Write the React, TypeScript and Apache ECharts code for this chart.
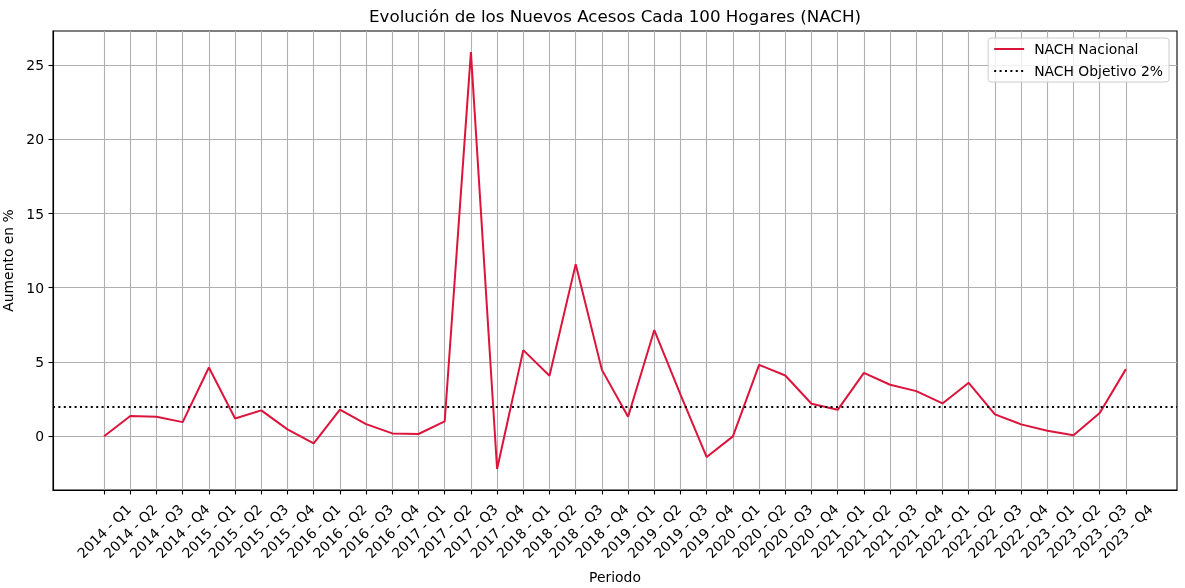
import { useEffect, useRef } from "react";
import * as echarts from "echarts";

const YEARS = [2014, 2015, 2016, 2017, 2018, 2019, 2020, 2021, 2022, 2023];
const QUARTERS = ["Q1", "Q2", "Q3", "Q4"];
const CATEGORIES: string[] = [];
YEARS.forEach((y) => QUARTERS.forEach((q) => CATEGORIES.push(`${y} - ${q}`)));

// NACH Nacional, one value per quarter
const NACH_VALUES = [
  0.0, 1.36, 1.31, 0.95,
  4.63, 1.2, 1.74, 0.46,
  -0.48, 1.8, 0.82, 0.19,
  0.15, 1.0, 25.87, -2.21,
  5.8, 4.07, 11.59, 4.47,
  1.31, 7.15, 2.8, -1.4,
  -0.01, 4.81, 4.09, 2.19,
  1.78, 4.27, 3.47, 3.04,
  2.21, 3.6, 1.47, 0.8,
  0.37, 0.06, 1.56, 4.52,
];
const TARGET = 2;
const Y_TICKS = [0, 5, 10, 15, 20, 25];

const FONT = "DejaVu Sans";

const App: React.FC = () => {
  const chartRef = useRef<HTMLDivElement>(null);

  useEffect(() => {
    if (!chartRef.current) return;
    const chart = echarts.init(chartRef.current, undefined, { renderer: "svg" });

    const xIdx = CATEGORIES.map((_, i) => i);

    chart.setOption({
      animation: false,
      textStyle: { fontFamily: FONT },
      grid: {
        left: 53,
        right: 8,
        top: 31,
        bottom: 98,
        containLabel: false,
        outerBoundsMode: "none",
        show: true,
        borderColor: "#000",
        borderWidth: 1.1,
      },
      graphic: [
        {
          type: "text",
          x: 615,
          y: 16,
          style: {
            text: "Evolución de los Nuevos Acesos Cada 100 Hogares (NACH)",
            textAlign: "center",
            textVerticalAlign: "middle",
            fontSize: 16.7,
            fontFamily: FONT,
            fill: "#000",
          },
        },
      ],
      legend: {
        orient: "vertical",
        right: 16,
        top: 38,
        padding: [4, 6, 4, 5],
        itemWidth: 30,
        itemHeight: 14,
        itemGap: 8,
        itemStyle: { opacity: 0 },
        borderColor: "#cccccc",
        borderWidth: 1,
        borderRadius: 3,
        backgroundColor: "rgba(255,255,255,0.8)",
        textStyle: { fontSize: 13.9, color: "#000", fontFamily: FONT, padding: [0, 0, 0, 5] },
        data: ["NACH Nacional", "NACH Objetivo 2%"],
      },
      xAxis: {
        type: "value",
        min: -1.95,
        max: 40.95,
        name: "Periodo",
        nameLocation: "middle",
        nameGap: 80,
        nameTextStyle: { fontSize: 13.9, color: "#000", fontFamily: FONT },
        axisLine: { show: true, onZero: false, lineStyle: { color: "#000", width: 1.1 } },
        axisTick: {
          show: true,
          customValues: xIdx,
          length: 4.5,
          lineStyle: { color: "#000", width: 1.1 },
        },
        axisLabel: {
          customValues: xIdx,
          rotate: 45,
          align: "center",
          verticalAlign: "middle",
          margin: 41,
          fontSize: 13.9,
          color: "#000",
          fontFamily: FONT,
          formatter: (v: number) => CATEGORIES[Math.round(v)] ?? "",
        },
        splitLine: { show: true, lineStyle: { color: "#b0b0b0", width: 1.1 } },
      },
      yAxis: {
        type: "value",
        min: -3.62,
        max: 27.29,
        name: "Aumento en %",
        nameLocation: "middle",
        nameGap: 34,
        nameTextStyle: { fontSize: 13.9, color: "#000", fontFamily: FONT },
        axisLine: { show: true, onZero: false, lineStyle: { color: "#000", width: 1.1 } },
        axisTick: {
          show: true,
          customValues: Y_TICKS,
          length: 4.5,
          lineStyle: { color: "#000", width: 1.1 },
        },
        axisLabel: {
          customValues: Y_TICKS,
          margin: 9,
          fontSize: 13.9,
          color: "#000",
          fontFamily: FONT,
        },
        splitLine: { show: true, lineStyle: { color: "#b0b0b0", width: 1.1 } },
      },
      series: [
        {
          name: "NACH Nacional",
          type: "line",
          symbol: "none",
          color: "#DC143C",
          lineStyle: { color: "#DC143C", width: 2 },
          data: NACH_VALUES.map((v, i) => [i, v]),
          z: 3,
        },
        {
          name: "NACH Objetivo 2%",
          type: "line",
          symbol: "none",
          color: "#000",
          lineStyle: { color: "#000", width: 2, type: [2, 3.4] },
          data: [],
          markLine: {
            silent: true,
            symbol: "none",
            label: { show: false },
            lineStyle: { color: "#000", width: 2, type: [2, 3.4] },
            data: [{ yAxis: TARGET }],
          },
          z: 2,
        },
      ],
    });

    return () => {
      chart.dispose();
    };
  }, []);

  return (
    <div
      ref={chartRef}
      style={{ position: "fixed", left: 0, top: 0, width: "1185px", height: "588px" }}
    />
  );
};

export default App;
